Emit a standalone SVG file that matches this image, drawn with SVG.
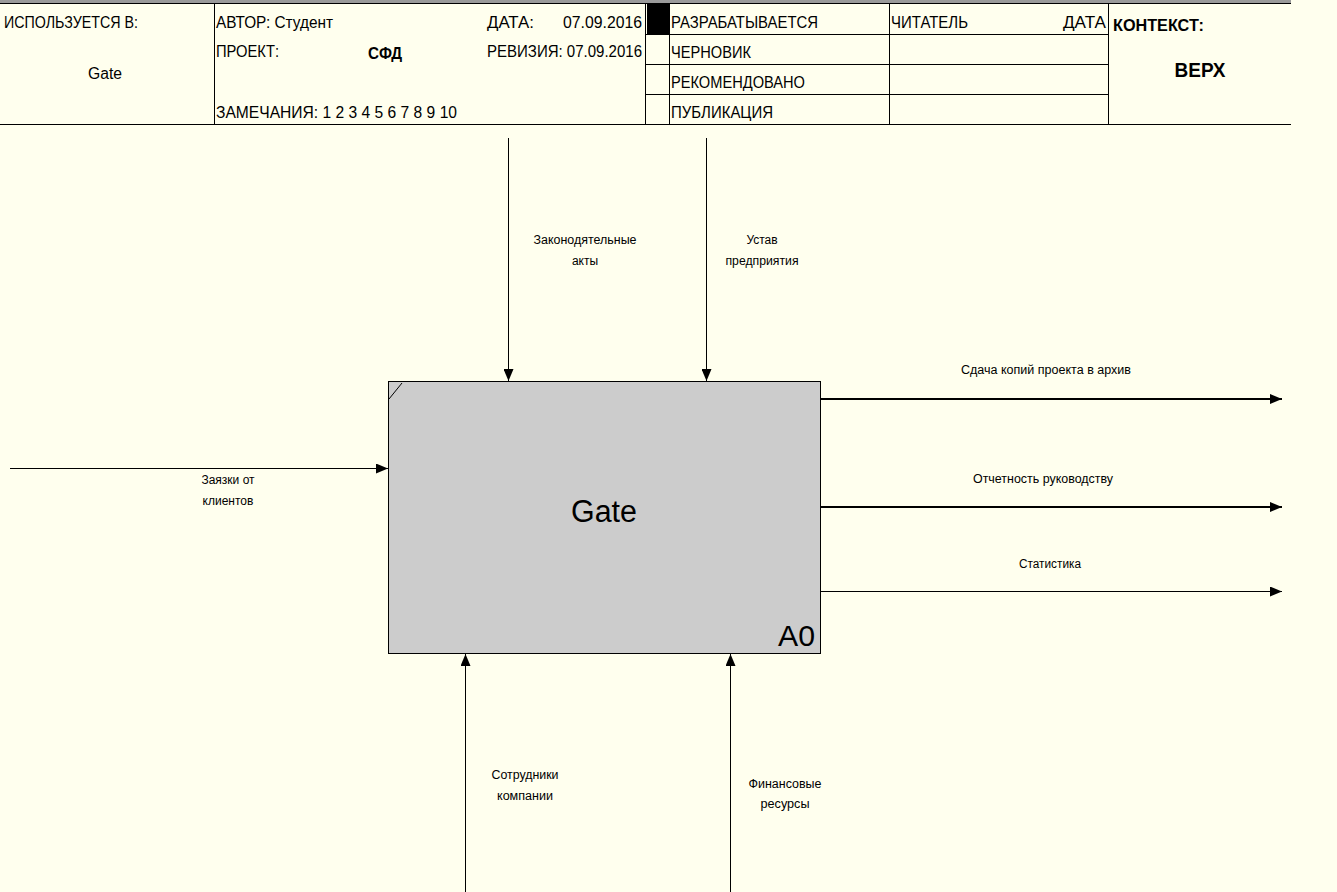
<svg xmlns="http://www.w3.org/2000/svg" width="1337" height="892" viewBox="0 0 1337 892">
<defs>
<style>
.t{font-family:"Liberation Sans",Arial,sans-serif;fill:#000}
.h{font-size:16px}
.hb{font-size:16px;font-weight:bold}
.l{font-size:12px}
.ln{stroke:#000;stroke-width:1;fill:none}
.ar{stroke:#000;stroke-width:1;fill:none}
.ar2{stroke:#000;stroke-width:2;fill:none}
</style>
<marker id="ah" viewBox="0 0 12 10" refX="12" refY="5" markerWidth="12" markerHeight="10" markerUnits="userSpaceOnUse" orient="auto">
<path d="M0,0 L12,5 L0,10 z" fill="#000"/>
</marker>
</defs>
<rect width="1337" height="892" fill="#ffffee"/>
<rect x="0" y="0" width="1291" height="3" fill="#9a9a9a"/>
<g id="header">
<line class="ln" x1="0" y1="3.5" x2="1291" y2="3.5"/>
<line class="ln" x1="0" y1="124.5" x2="1291" y2="124.5"/>
<line class="ln" x1="214.5" y1="3" x2="214.5" y2="124"/>
<line class="ln" x1="645.5" y1="3" x2="645.5" y2="124"/>
<line class="ln" x1="669.5" y1="3" x2="669.5" y2="124"/>
<line class="ln" x1="889.5" y1="3" x2="889.5" y2="124"/>
<line class="ln" x1="1108.5" y1="3" x2="1108.5" y2="124"/>
<line class="ln" x1="645" y1="34.5" x2="1108" y2="34.5"/>
<line class="ln" x1="645" y1="64.5" x2="1108" y2="64.5"/>
<line class="ln" x1="645" y1="94.5" x2="1108" y2="94.5"/>
<rect x="647" y="4" width="22" height="30" fill="#000"/>
<text class="t h" x="4" y="28" textLength="134" lengthAdjust="spacingAndGlyphs">ИСПОЛЬЗУЕТСЯ В:</text>
<text class="t h" x="105" y="79" text-anchor="middle" textLength="34" lengthAdjust="spacingAndGlyphs">Gate</text>
<text class="t h" x="216" y="28" textLength="117" lengthAdjust="spacingAndGlyphs">АВТОР: Студент</text>
<text class="t h" x="487" y="28" textLength="47" lengthAdjust="spacingAndGlyphs">ДАТА:</text>
<text class="t h" x="563" y="28" textLength="79" lengthAdjust="spacingAndGlyphs">07.09.2016</text>
<text class="t h" x="216" y="57" textLength="63" lengthAdjust="spacingAndGlyphs">ПРОЕКТ:</text>
<text class="t hb" x="368" y="59" textLength="34" lengthAdjust="spacingAndGlyphs">СФД</text>
<text class="t h" x="487" y="57" textLength="155" lengthAdjust="spacingAndGlyphs">РЕВИЗИЯ: 07.09.2016</text>
<text class="t h" x="216" y="118" textLength="241" lengthAdjust="spacingAndGlyphs">ЗАМЕЧАНИЯ: 1 2 3 4 5 6 7 8 9 10</text>
<text class="t h" x="671" y="28" textLength="147" lengthAdjust="spacingAndGlyphs">РАЗРАБАТЫВАЕТСЯ</text>
<text class="t h" x="671" y="58" textLength="80" lengthAdjust="spacingAndGlyphs">ЧЕРНОВИК</text>
<text class="t h" x="671" y="88" textLength="134" lengthAdjust="spacingAndGlyphs">РЕКОМЕНДОВАНО</text>
<text class="t h" x="671" y="118" textLength="102" lengthAdjust="spacingAndGlyphs">ПУБЛИКАЦИЯ</text>
<text class="t h" x="891" y="28" textLength="77" lengthAdjust="spacingAndGlyphs">ЧИТАТЕЛЬ</text>
<text class="t h" x="1063" y="28" textLength="43" lengthAdjust="spacingAndGlyphs">ДАТА</text>
<text class="t hb" x="1113" y="31" textLength="91" lengthAdjust="spacingAndGlyphs">КОНТЕКСТ:</text>
<text class="t" x="1200" y="77" text-anchor="middle" font-size="21" font-weight="bold" textLength="51" lengthAdjust="spacingAndGlyphs">ВЕРХ</text>
</g>
<g id="A0">
<rect x="388.5" y="381.5" width="432" height="272" fill="#cccccc" stroke="#000" stroke-width="1"/>
<line class="ln" x1="389" y1="399" x2="402" y2="383"/>
<text class="t" x="604" y="522" text-anchor="middle" font-size="31" textLength="66" lengthAdjust="spacingAndGlyphs">Gate</text>
<text class="t" x="815" y="646" text-anchor="end" font-size="30" textLength="37" lengthAdjust="spacingAndGlyphs">A0</text>
</g>
<g id="connectors">
<line class="ar" x1="508.5" y1="138" x2="508.5" y2="381" marker-end="url(#ah)"/>
<line class="ar" x1="706.5" y1="138" x2="706.5" y2="381" marker-end="url(#ah)"/>
<line class="ar" x1="10" y1="468.5" x2="388" y2="468.5" marker-end="url(#ah)"/>
<line class="ar2" x1="821" y1="399" x2="1282" y2="399" marker-end="url(#ah)"/>
<line class="ar2" x1="821" y1="507" x2="1282" y2="507" marker-end="url(#ah)"/>
<line class="ar" x1="821" y1="591.5" x2="1282" y2="591.5" marker-end="url(#ah)"/>
<line class="ar" x1="465.5" y1="892" x2="465.5" y2="654" marker-end="url(#ah)"/>
<line class="ar" x1="730.5" y1="892" x2="730.5" y2="654" marker-end="url(#ah)"/>
</g>
<g id="labels">
<text class="t l" x="585" y="244" text-anchor="middle" textLength="103" lengthAdjust="spacingAndGlyphs">Законодятельные</text>
<text class="t l" x="585" y="265" text-anchor="middle">акты</text>
<text class="t l" x="762" y="244" text-anchor="middle">Устав</text>
<text class="t l" x="762" y="265" text-anchor="middle" textLength="73" lengthAdjust="spacingAndGlyphs">предприятия</text>
<text class="t l" x="228" y="484" text-anchor="middle">Заязки от</text>
<text class="t l" x="228" y="505" text-anchor="middle">клиентов</text>
<text class="t l" x="1046" y="374" text-anchor="middle" textLength="170" lengthAdjust="spacingAndGlyphs">Сдача копий проекта в архив</text>
<text class="t l" x="1043" y="483" text-anchor="middle" textLength="140" lengthAdjust="spacingAndGlyphs">Отчетность руководству</text>
<text class="t l" x="1050" y="568" text-anchor="middle" textLength="62" lengthAdjust="spacingAndGlyphs">Статистика</text>
<text class="t l" x="525" y="779" text-anchor="middle" textLength="67" lengthAdjust="spacingAndGlyphs">Сотрудники</text>
<text class="t l" x="525" y="800" text-anchor="middle" textLength="56" lengthAdjust="spacingAndGlyphs">компании</text>
<text class="t l" x="785" y="788" text-anchor="middle" textLength="73" lengthAdjust="spacingAndGlyphs">Финансовые</text>
<text class="t l" x="785" y="808" text-anchor="middle" textLength="49" lengthAdjust="spacingAndGlyphs">ресурсы</text>
</g>
</svg>
